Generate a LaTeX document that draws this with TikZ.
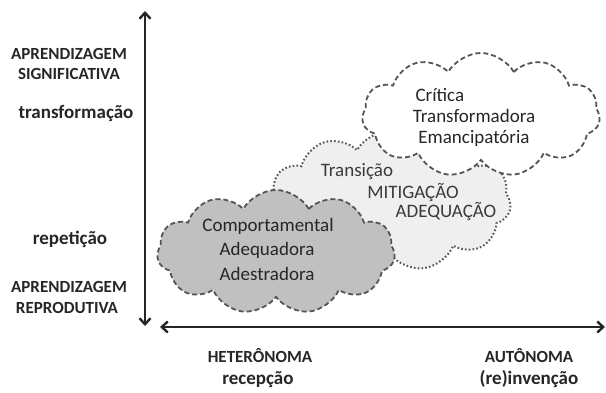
\documentclass[tikz,border=0pt]{standalone}
\usepackage{fontspec}
\setmainfont{Carlito}
\usetikzlibrary{shapes.symbols,arrows.meta}
\definecolor{txt}{HTML}{262626}
\definecolor{midtxt}{HTML}{3A3A3A}
\definecolor{edge}{HTML}{555555}
\definecolor{darkfill}{HTML}{C0C0C0}
\definecolor{lightfill}{HTML}{EFEFEF}
\tikzset{
  cloudbox/.style={cloud, cloud puffs=11, cloud puff arc=120, draw=edge, line width=1.8pt, inner sep=0pt},
  dashcloud/.style={cloudbox, dash pattern=on 5pt off 3pt},
  dotcloud/.style={cloudbox, dash pattern=on 1.6pt off 2.2pt, line width=2pt},
  axis/.style={line width=2.4pt, draw=txt, {Straight Barb[length=6pt,width=11pt]}-{Straight Barb[length=6pt,width=11pt]}},
  lab/.style={anchor=base, text=txt, font=\bfseries\fontsize{17}{20}\selectfont},
  lowlab/.style={anchor=base, text=txt, font=\bfseries\fontsize{19}{22}\selectfont},
  ctext/.style={anchor=base, text=txt, font=\fontsize{19}{22}\selectfont},
  mtext/.style={anchor=base, text=midtxt, font=\fontsize{19}{22}\selectfont},
}
\begin{document}
\begin{tikzpicture}[x=1pt,y=-1pt]
\useasboundingbox (0,0) rectangle (606,393);
% axes
\coordinate (vtop) at (145,11);
\coordinate (vbot) at (145,326);
\coordinate (hleft) at (160,327);
\coordinate (hright) at (605,327);
\draw[axis] (vbot) -- (vtop);
\draw[axis] (hleft) -- (hright);
% clouds
\node[dotcloud, fill=lightfill, minimum width=242pt, minimum height=140pt] (mid) at (390,201) {};
\node[dashcloud, fill=white, minimum width=238pt, minimum height=124pt] (top) at (481,115) {};
\node[dashcloud, fill=darkfill, minimum width=238pt, minimum height=124pt] (low) at (276,252) {};
% cloud texts
\node[ctext] (c1) at (268,232) {Comportamental};
\node[ctext] (c2) at (267,256) {Adequadora};
\node[ctext] (c3) at (267,280) {Adestradora};
\node[ctext, anchor=base west] (t1) at (412,102) {Crítica};
\node[ctext] (t2) at (474,123) {Transformadora};
\node[ctext] (t3) at (474,144) {Emancipatória};
\node[mtext] (m1) at (357,177) {Transição};
\node[mtext] (m2) at (413,199) {MITIGAÇÃO};
\node[mtext] (m3) at (446,218) {ADEQUAÇÃO};
% left labels
\node[lab] (l1) at (69,60) {APRENDIZAGEM};
\node[lab] (l2) at (69,80) {SIGNIFICATIVA};
\node[lowlab] (l3) at (76,119) {transformação};
\node[lowlab] (l4) at (70,245) {repetição};
\node[lab] (l5) at (69,293) {APRENDIZAGEM};
\node[lab] (l6) at (67,313) {REPRODUTIVA};
% bottom labels
\node[lab] (b1) at (260,362) {HETERÔNOMA};
\node[lowlab] (b2) at (258,384) {recepção};
\node[lab] (b3) at (529,362) {AUTÔNOMA};
\node[lowlab] (b4) at (529,384) {(re)invenção};
\end{tikzpicture}
\end{document}
